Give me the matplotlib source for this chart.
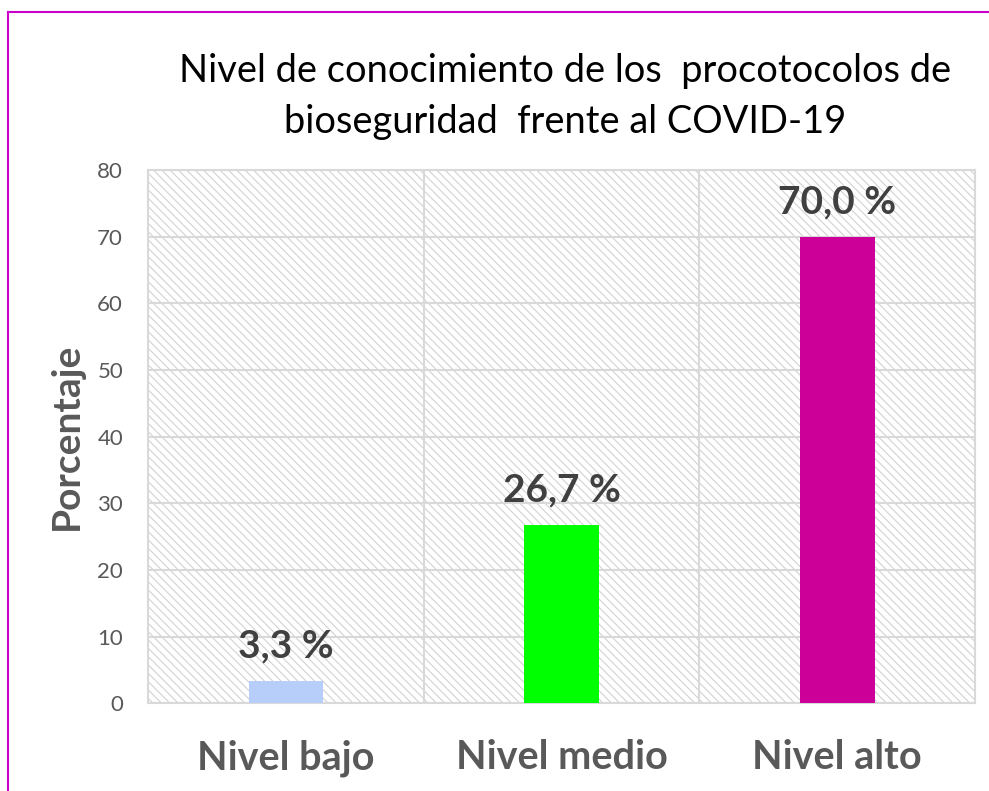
import matplotlib.pyplot as plt
from matplotlib.patches import Rectangle
from matplotlib.lines import Line2D

categories = ["Nivel bajo", "Nivel medio", "Nivel alto"]
values = [3.3, 26.7, 70.0]
bar_colors = ["#b7cdfa", "#00ff00", "#cc0099"]
title = "Nivel de conocimiento de los  procotocolos de\nbioseguridad  frente al COVID-19"
ylabel = "Porcentaje"
yticks = [0, 10, 20, 30, 40, 50, 60, 70, 80]

plt.rcParams["font.family"] = ["Lato", "DejaVu Sans"]
plt.rcParams["hatch.linewidth"] = 0.8

grid_color = "#d9d9d9"
text_gray = "#595959"

fig = plt.figure(figsize=(9.89, 7.91), dpi=100)
ax = fig.add_axes([0.1497, 0.111, 0.8363, 0.674])

# hatched plot background
ax.add_patch(Rectangle((0, 0), 1, 1, transform=ax.transAxes, facecolor="white",
                       edgecolor="#d2d2d2", linewidth=0, hatch="\\\\\\\\", zorder=0.5))

x = list(range(len(categories)))
ax.bar(x, values, width=0.27, color=bar_colors, zorder=3)

for xi, v in zip(x, values):
    ax.text(xi, v + 2.6, f"{v:.1f}".replace(".", ",") + " %", ha="center", va="bottom",
            fontsize=28, fontweight="bold", color="#404040", zorder=4)

ax.set_xlim(-0.5, len(categories) - 0.5)
ax.set_ylim(0, 80)
ax.set_yticks(yticks)
ax.set_xticks(x)
ax.set_xticklabels(categories, fontsize=28.5, fontweight="bold", color=text_gray)
ax.tick_params(axis="x", length=0, pad=26)
ax.tick_params(axis="y", length=0, pad=18, labelsize=16, labelcolor=text_gray)

for yv in yticks:
    ax.axhline(yv, color=grid_color, lw=1.5, zorder=1)
for b in [0.5, 1.5]:
    ax.axvline(b, color=grid_color, lw=1.5, zorder=1)
for s in ax.spines.values():
    s.set_color(grid_color)
    s.set_linewidth(1.5)

ax.set_ylabel(ylabel, fontsize=28, fontweight="bold", color=text_gray)
ax.yaxis.set_label_coords(-0.078, 0.5)

fig.text(0.571, 0.878, title, ha="center", va="center", fontsize=27.4,
         color="black", linespacing=1.52)

# magenta frame around chart
fig.add_artist(Line2D([0.008, 1.0], [0.985, 0.985], transform=fig.transFigure,
                      color="#cc00cc", lw=1.5))
fig.add_artist(Line2D([0.008, 0.008], [0.0, 0.985], transform=fig.transFigure,
                      color="#cc00cc", lw=1.5))

fig.savefig("out.png", dpi=100)
